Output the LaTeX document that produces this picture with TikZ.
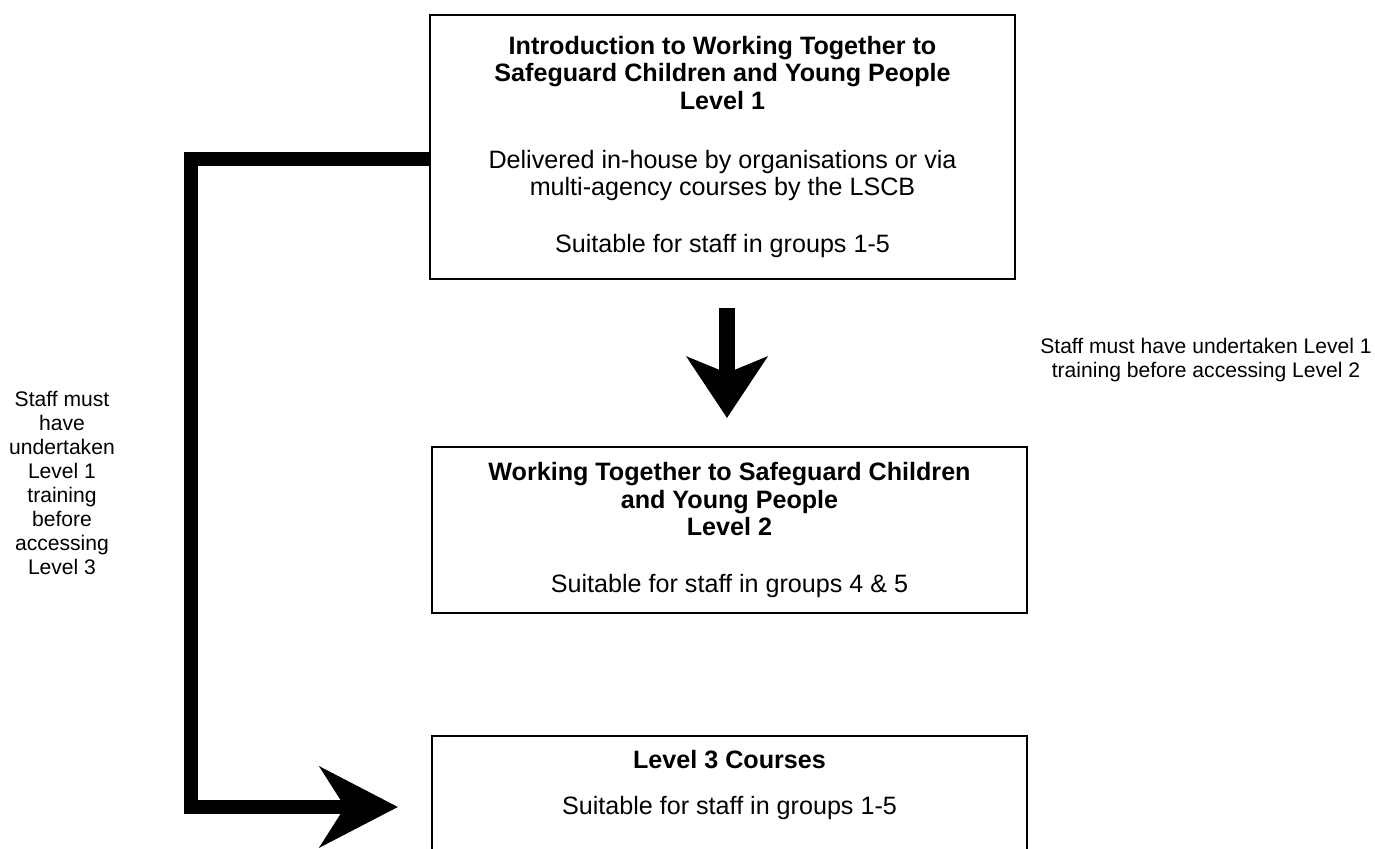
\documentclass[tikz,border=0pt]{standalone}
\usepackage{fontspec}
\setmainfont{Liberation Sans}
\usetikzlibrary{arrows.meta,positioning,calc}

\begin{document}
\begin{tikzpicture}[
    boxtext/.style={align=center, font=\fontsize{14.3}{15.6}\selectfont, inner sep=0pt},
    box/.style={boxtext, draw, line width=1.1pt},
    note/.style={align=center, font=\fontsize{12}{13.6}\selectfont, inner sep=0pt},
    route/.style={line width=8.5pt, -{Stealth[length=1.56cm, width=1.6cm, inset=0.5cm]}},
    drop/.style={line width=9pt, -{Stealth[length=1.22cm, width=1.6cm, inset=0.32cm]}}
  ]
  \useasboundingbox (0,0) rectangle (27.5,16.98);

  % --- level boxes
  \node[box, minimum width=11.7cm, minimum height=5.28cm] (l1) at (14.45,14.04)
    {\textbf{Introduction to Working Together to}\\
     \textbf{Safeguard Children and Young People}\\
     \textbf{Level 1}\\[18pt]
     Delivered in-house by organisations or via\\
     multi-agency courses by the LSCB\\[17pt]
     Suitable for staff in groups 1-5};
  \node[box, minimum width=11.9cm, minimum height=3.32cm] (l2) at (14.59,6.38)
    {\textbf{Working Together to Safeguard Children}\\
     \textbf{and Young People}\\
     \textbf{Level 2}\\[16.5pt]
     Suitable for staff in groups 4 \& 5};
  % level 3 box runs off the page
  \node[box, minimum width=11.9cm, minimum height=3cm, anchor=north] (l3box) at (14.59,2.28) {};
  \node[boxtext] (l3) at ($(l3box.north)+(0,-1.0)$)
    {\textbf{Level 3 Courses}\\[10.5pt]
     Suitable for staff in groups 1-5};

  % --- level 1 -> level 2
  \coordinate (droptop) at (14.54,10.82);
  \coordinate (droptip) at (14.54,8.62);
  \draw[drop] (droptop) -- (droptip);
  \node[note] (n2) at (24.12,9.77)
    {Staff must have undertaken Level 1\\ training before accessing Level 2};

  % --- level 1 -> level 3
  \coordinate (bend) at (3.82,0.84);
  \coordinate (tip) at (7.96,0.84);
  \draw[route] ([yshift=-0.24cm]l1.west) -| (bend) -- (tip);
  \node[note] (n3) at (1.24,7.32)
    {Staff must\\ have\\ undertaken\\ Level 1\\ training\\ before\\ accessing\\ Level 3};
\end{tikzpicture}
\end{document}
